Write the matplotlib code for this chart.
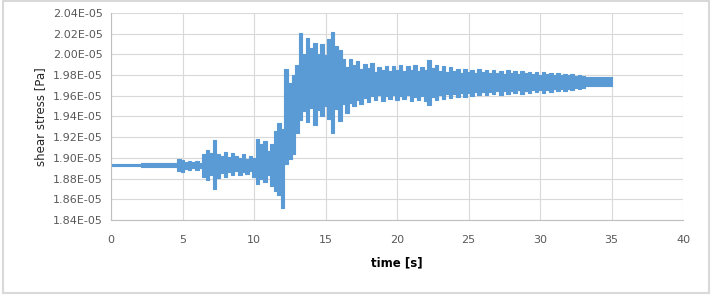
import numpy as np
import matplotlib.pyplot as plt
from matplotlib.patches import Rectangle
from matplotlib.ticker import FuncFormatter

# envelope of the shear stress signal, sampled every 0.25 s (units of 1e-5 Pa)
time = np.arange(0, 35.01, 0.25)

upper = [
    1.894, 1.894, 1.894, 1.894, 1.894, 1.894, 1.894, 1.894, 1.894,           # 0 - 2
    1.895, 1.895, 1.895, 1.895, 1.895, 1.895, 1.895, 1.895, 1.895, 1.895,      # 2.25 - 4.5
    1.899, 1.898, 1.896, 1.897, 1.896, 1.897, 1.895,                           # 4.75 - 6.25
    1.904, 1.908, 1.905, 1.917, 1.904, 1.902, 1.906, 1.901, 1.905, 1.902,      # 6.5 - 8.75
    1.900, 1.904, 1.899, 1.902, 1.900,                                         # 9 - 10
    1.918, 1.913, 1.916, 1.907, 1.913, 1.926, 1.934, 1.928,                    # 10.25 - 12
    1.986, 1.972, 1.980, 1.990, 2.021, 2.000, 2.016, 2.006, 2.011, 2.000,      # 12.25 - 14.5
    2.010, 1.999, 2.015, 2.022, 2.008, 2.004, 1.996, 1.988, 1.996, 1.990,      # 14.75 - 17
    1.994, 1.986, 1.991, 1.987, 1.992, 1.983, 1.988, 1.985, 1.989, 1.984,      # 17.25 - 19.5
    1.989, 1.985, 1.990, 1.984, 1.989, 1.985, 1.990, 1.984, 1.988, 1.985,      # 19.75 - 22
    1.995, 1.987, 1.990, 1.984, 1.989, 1.983, 1.988, 1.984, 1.986, 1.982,      # 22.25 - 24.5
    1.986, 1.983, 1.985, 1.982, 1.986, 1.983, 1.985, 1.982, 1.985, 1.982,      # 24.75 - 27
    1.984, 1.981, 1.985, 1.982, 1.984, 1.981, 1.984, 1.982, 1.983, 1.981,      # 27.25 - 29.5
    1.983, 1.980, 1.983, 1.981, 1.982, 1.980, 1.982, 1.980, 1.981, 1.980,      # 29.75 - 32
    1.981, 1.979, 1.980, 1.979, 1.978, 1.978, 1.978, 1.978, 1.978, 1.978,      # 32.25 - 34.5
    1.978, 1.978,                                                              # 34.75 - 35
]

lower = [
    1.892, 1.892, 1.892, 1.892, 1.892, 1.892, 1.892, 1.892, 1.892,
    1.891, 1.891, 1.891, 1.891, 1.891, 1.891, 1.891, 1.891, 1.891, 1.891,
    1.887, 1.886, 1.889, 1.888, 1.890, 1.888, 1.890,
    1.882, 1.879, 1.883, 1.870, 1.881, 1.885, 1.882, 1.886, 1.883, 1.887,
    1.883, 1.886, 1.884, 1.887, 1.882,
    1.875, 1.880, 1.877, 1.883, 1.873, 1.868, 1.864, 1.852,
    1.894, 1.899, 1.904, 1.924, 1.937, 1.945, 1.935, 1.948, 1.932, 1.946,
    1.940, 1.950, 1.938, 1.924, 1.947, 1.936, 1.952, 1.943, 1.953, 1.950,
    1.956, 1.952, 1.958, 1.954, 1.960, 1.956, 1.961, 1.955, 1.960, 1.957,
    1.961, 1.956, 1.960, 1.957, 1.961, 1.955, 1.959, 1.956, 1.960, 1.955,
    1.951, 1.959, 1.956, 1.961, 1.957, 1.962, 1.958, 1.962, 1.959, 1.963,
    1.959, 1.963, 1.960, 1.964, 1.961, 1.964, 1.961, 1.964, 1.962, 1.965,
    1.961, 1.965, 1.962, 1.965, 1.963, 1.966, 1.962, 1.965, 1.963, 1.966,
    1.964, 1.966, 1.963, 1.966, 1.964, 1.967, 1.965, 1.967, 1.965, 1.967,
    1.966, 1.968, 1.967, 1.968, 1.969, 1.969, 1.969, 1.969, 1.969, 1.969,
    1.969, 1.969,
]

blue = '#5b9bd5'
grid = '#d9d9d9'
txt = '#595959'

fig = plt.figure(figsize=(7.19, 3.0), dpi=100)
fig.patches.append(Rectangle((0.004, 0.023), 0.982, 0.975, transform=fig.transFigure,
                             fill=False, edgecolor=grid, linewidth=1.5))

ax = fig.add_axes([0.1544, 0.2667, 0.7956, 0.69])
lo = np.array(lower) * 1e-5
hi = np.array(upper) * 1e-5
ax.fill_between(time, lo, hi, step='mid', color=blue, linewidth=0.8, edgecolor=blue)

ax.set_xlim(0, 40)
ax.set_ylim(1.84e-5, 2.04e-5)
ax.set_xticks(np.arange(0, 41, 5))
ax.set_yticks(np.arange(1.84, 2.041, 0.02) * 1e-5)
ax.yaxis.set_major_formatter(FuncFormatter(lambda v, p: f'{v:.2E}'))
ax.grid(True, color=grid, linewidth=0.8)
ax.set_axisbelow(True)
for s in ['top', 'right']:
    ax.spines[s].set_visible(False)
for s in ['left', 'bottom']:
    ax.spines[s].set_color('#bfbfbf')
    ax.spines[s].set_linewidth(0.8)
ax.tick_params(length=0, labelsize=8, colors=txt, pad=6)
ax.tick_params(axis='x', pad=11)

ax.set_xlabel('time [s]', fontsize=8.5, fontweight='bold', labelpad=8)
ax.set_ylabel('shear stress [Pa]', fontsize=8.5, color='#262626', labelpad=4)

fig.savefig('out.png', dpi=100)
